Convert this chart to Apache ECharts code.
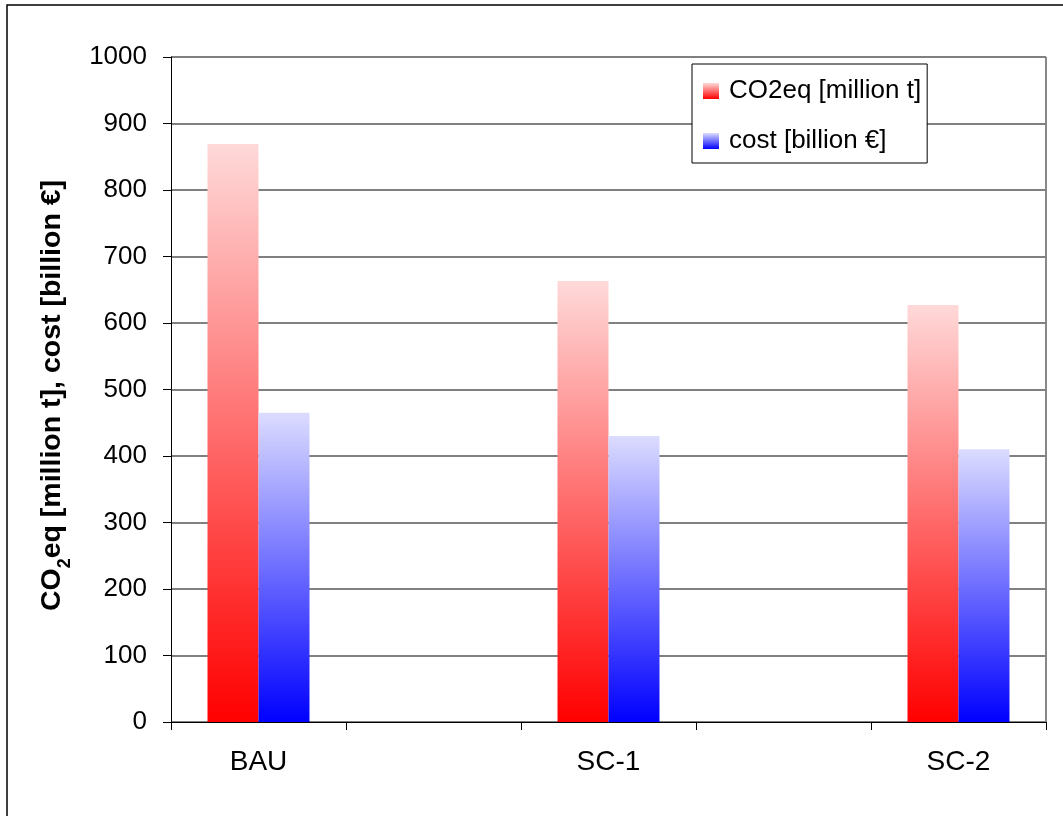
<!DOCTYPE html>
<html>
<head>
<meta charset="utf-8">
<script src="https://cdn.jsdelivr.net/npm/echarts@6/dist/echarts.min.js"></script>
<style>
  html, body { margin: 0; padding: 0; background: #fff; }
  #main { width: 1063px; height: 816px; }
</style>
</head>
<body>
<div id="main"></div>
<script>
// categories (empty slots give the wide gaps between groups)
var categories = ['BAU', '', 'SC-1', '', 'SC-2'];
var co2Values = [869, '-', 663, '-', 627];
var costValues = [465, '-', 430, '-', 410];
var yTicks = { min: 0, max: 1000, interval: 100 };

var FONT = '"Liberation Sans", Arial, sans-serif';

function grad(bottom, top) {
    return new echarts.graphic.LinearGradient(0, 1, 0, 0, [
        { offset: 0, color: bottom },
        { offset: 1, color: top }
    ]);
}

var option = {
    animation: false,
    backgroundColor: '#fff',
    textStyle: { fontFamily: FONT },
    graphic: [
        {
            type: 'rect',
            shape: { x: 7, y: 5, width: 1200, height: 900 },
            style: { fill: 'none', stroke: '#000', lineWidth: 1.5 },
            silent: true
        },
        {
            // right border of the plot area
            type: 'line',
            shape: { x1: 1046, y1: 57, x2: 1046, y2: 722 },
            style: { stroke: '#888', lineWidth: 2 },
            silent: true
        }
    ],
    grid: { left: 171, right: 17, top: 57, bottom: 94 },
    legend: {
        orient: 'vertical',
        left: 692,
        top: 64,
        padding: [14, 6, 9, 11],
        itemGap: 24,
        itemWidth: 16,
        itemHeight: 16,
        icon: 'rect',
        backgroundColor: '#fff',
        borderColor: '#000',
        borderWidth: 1,
        textStyle: { fontFamily: FONT, fontSize: 26, color: '#000', padding: [0, 0, 0, 5] },
        data: ['CO2eq [million t]', 'cost [billion €]']
    },
    xAxis: {
        type: 'category',
        data: categories,
        axisLine: { lineStyle: { color: '#000', width: 1 } },
        axisTick: { show: true, length: 8, interval: 0, lineStyle: { color: '#000' } },
        axisLabel: { interval: 0, margin: 26, fontSize: 28, color: '#000', fontFamily: FONT }
    },
    yAxis: {
        type: 'value',
        min: yTicks.min,
        max: yTicks.max,
        interval: yTicks.interval,
        name: '{a|CO}{s|2}{a|eq [million t], cost [billion €]}',
        nameLocation: 'middle',
        nameGap: 104,
        nameTextStyle: {
            padding: [0, 12, 0, 0],
            rich: {
                a: { fontSize: 28.5, fontWeight: 'bold', color: '#000', fontFamily: FONT, lineHeight: 30 },
                s: { fontSize: 18, fontWeight: 'bold', color: '#000', fontFamily: FONT, lineHeight: 30, verticalAlign: 'bottom', padding: [0, 0, -7, 0] }
            }
        },
        axisLine: { show: true, lineStyle: { color: '#000', width: 1 } },
        axisTick: { show: true, length: 8, lineStyle: { color: '#000' } },
        axisLabel: {
            margin: 24, fontSize: 26, color: '#000', fontFamily: FONT,
            formatter: function (v) { return String(v); }
        },
        splitLine: { show: true, lineStyle: { color: '#808080', width: 2 } }
    },
    series: [
        {
            name: 'CO2eq [million t]',
            type: 'bar',
            data: co2Values,
            barWidth: 51,
            barGap: 0,
            itemStyle: { color: grad('#ff0000', '#ffd9d9') }
        },
        {
            name: 'cost [billion €]',
            type: 'bar',
            data: costValues,
            barWidth: 51,
            barGap: 0,
            itemStyle: { color: grad('#0000ff', '#dcdcff') }
        }
    ]
};

echarts.init(document.getElementById('main')).setOption(option);
</script>
</body>
</html>
